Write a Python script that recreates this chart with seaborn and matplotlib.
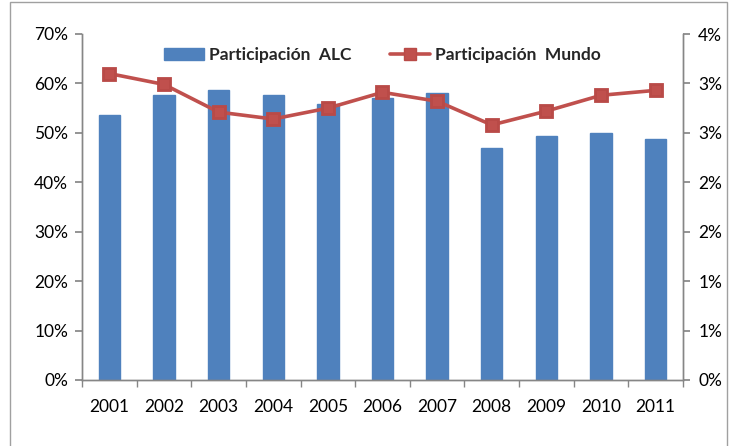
import matplotlib
matplotlib.use("Agg")
import matplotlib.pyplot as plt
import seaborn as sns
import pandas as pd
from matplotlib.lines import Line2D
from matplotlib.patches import Patch, Rectangle
from matplotlib.ticker import FixedLocator

years = ["2001", "2002", "2003", "2004", "2005", "2006", "2007", "2008", "2009", "2010", "2011"]
part_alc = [53.7, 57.7, 58.6, 57.7, 55.9, 57.1, 58.1, 47.0, 49.4, 49.9, 48.8]
part_mundo = [3.10, 2.99, 2.71, 2.64, 2.75, 2.91, 2.82, 2.58, 2.72, 2.88, 2.93]
left_ticks = [0, 10, 20, 30, 40, 50, 60, 70]
left_labels = ["0%", "10%", "20%", "30%", "40%", "50%", "60%", "70%"]
right_ticks = [0, 0.5, 1.0, 1.5, 2.0, 2.5, 3.0, 3.5]
right_labels = ["0%", "1%", "1%", "2%", "2%", "3%", "3%", "4%"]

sns.set_theme(style="white")
plt.rcParams["font.family"] = ["Lato", "DejaVu Sans"]

df = pd.DataFrame({"year": years, "alc": part_alc, "mundo": part_mundo})

fig = plt.figure(figsize=(7.34, 4.46), dpi=100)
ax = fig.add_axes([82/734, 1-380/446, (683-82)/734, (380-34)/446])

blue = "#4F81BD"
red = "#C0504D"
grey = "#868686"

sns.barplot(data=df, x="year", y="alc", ax=ax, color=blue, width=0.39,
            saturation=1, edgecolor=blue)
ax.set_xlim(-0.5, len(years) - 0.5)
ax.set_ylim(0, 70)
ax.set_yticks(left_ticks)
ax.set_yticklabels(left_labels)
ax.set_xlabel("")
ax.set_ylabel("")

ax2 = ax.twinx()
sns.pointplot(data=df, x="year", y="mundo", ax=ax2, color=red, markers="s",
              linestyles="-", errorbar=None)
for ln in ax2.lines:
    ln.set_linewidth(2.6)
    ln.set_markersize(8)
    ln.set_markerfacecolor(red)
    ln.set_markeredgecolor("#B94A47")
ax2.set_xlim(-0.5, len(years) - 0.5)
ax2.set_ylim(0, 3.5)
ax2.set_yticks(right_ticks)
ax2.set_yticklabels(right_labels)
ax2.set_ylabel("")
ax2.set_xlabel("")

for a in (ax, ax2):
    a.spines["top"].set_visible(False)
    for s in ("left", "right", "bottom"):
        a.spines[s].set_color(grey)
        a.spines[s].set_linewidth(1.0)

ax.tick_params(axis="y", which="major", left=True, length=5, color=grey, labelsize=12.5,
               labelcolor="black", pad=5)
ax.tick_params(axis="x", which="major", length=0, labelsize=12.5, labelcolor="black", pad=14)
ax.xaxis.set_minor_locator(FixedLocator([i - 0.5 for i in range(len(years) + 1)]))
ax.tick_params(axis="x", which="minor", bottom=True, length=5, color=grey)
ax2.tick_params(axis="y", right=True, length=5, color=grey, labelsize=12.5,
                labelcolor="black", pad=6)

handles = [Patch(facecolor=blue, edgecolor=blue),
           Line2D([0], [0], color=red, lw=2.6, marker="s", markersize=8,
                  markerfacecolor=red, markeredgecolor="#B94A47")]
ax.legend(handles, ["Participación  ALC", "Participación  Mundo"], ncol=2,
          loc="upper center", bbox_to_anchor=(0.5, 1.0), frameon=False,
          prop={"weight": "bold", "size": 12.5}, handlelength=2.3, handleheight=0.75,
          columnspacing=2.2, handletextpad=0.3, borderaxespad=0.35)

fig.patches.append(Rectangle((10/734, -0.02), 717/734, 1.02 - 2/446,
                             transform=fig.transFigure, fill=False,
                             edgecolor="#A0A0A0", linewidth=1.0))

fig.savefig("out.png", dpi=100)
